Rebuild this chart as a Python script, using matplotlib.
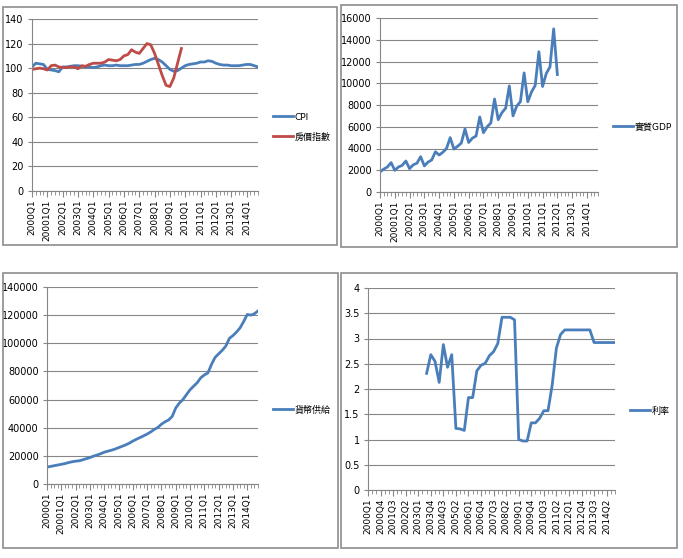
import numpy as np
import matplotlib
matplotlib.use("Agg")
import matplotlib.pyplot as plt
from matplotlib.patches import Rectangle
from matplotlib.ticker import FuncFormatter, FixedLocator

plt.rcParams['font.family'] = ['DejaVu Sans', 'Noto Sans CJK TC']

# quarters 2000Q1 .. 2014Q4 (60 categories)
n_q = 60

cpi = [101, 104, 103.5, 103, 99, 98.5, 98, 97, 101, 101,
       101.5, 102, 102, 101.5, 101, 101, 100.5, 101, 102, 102.5,
       102, 102, 102.5, 102, 102, 102, 102.5, 103, 103, 104,
       105.5, 107, 108, 107, 105, 102, 99, 97.5, 98, 100,
       102, 103, 103.5, 104, 105, 105, 106, 105.5, 104, 103,
       102.5, 102.5, 102, 102, 102, 102.5, 103, 103, 102, 101]

house = [99, 99.5, 100, 99.5, 98.5, 102, 102.5, 101, 100.5, 100.5,
         101, 101, 99.5, 102, 101.5, 103, 104, 104, 104, 105,
         107, 106.5, 106, 107, 110, 111, 115, 113, 112, 116,
         120, 119, 112, 103, 94, 86, 85, 92, 104, 116]

gdp = [1850, 2100, 2300, 2700, 2000, 2300, 2450, 2850,
       2150, 2500, 2650, 3250, 2400, 2750, 2950, 3700,
       3400, 3650, 4000, 5000, 3950, 4200, 4500, 5800,
       4550, 4950, 5150, 6900, 5450, 6000, 6350, 8550,
       6650, 7300, 7700, 9750, 7000, 7900, 8300, 10950,
       8300, 9200, 9800, 12900, 9700, 10900, 11500, 15000,
       10800]

money = [12000, 12500, 13000, 13500, 14000, 14500, 15200, 15800, 16200, 16500,
         17200, 18000, 18800, 19800, 20600, 21500, 22600, 23300, 24000, 24800,
         25800, 26800, 27800, 29000, 30500, 31800, 33000, 34200, 35500, 37000,
         38800, 40200, 42500, 44200, 45500, 48000, 54000, 57500, 60000, 63500,
         67000, 69500, 72000, 75500, 77500, 79000, 85000, 90000, 92500, 95000,
         98000, 103500, 105500, 108000, 111000, 115500, 120500, 120000, 121000, 123000]

rate_start = 14  # 2003Q3
rate = [2.31, 2.68, 2.55, 2.13, 2.88, 2.43, 2.68, 1.22, 1.21, 1.18,
        1.83, 1.83, 2.36, 2.47, 2.51, 2.66, 2.74, 2.9, 3.42, 3.42,
        3.42, 3.37, 1.0, 0.97, 0.97, 1.33, 1.33, 1.42, 1.57, 1.57,
        2.08, 2.81, 3.08, 3.17, 3.17, 3.17, 3.17, 3.17, 3.17, 3.17,
        2.92, 2.92, 2.92, 2.92, 2.92, 2.92]

year_labels = ["2000Q1", "20001Q1", "2002Q1", "2003Q1", "2004Q1", "2005Q1",
               "2006Q1", "2007Q1", "2008Q1", "2009Q1", "2010Q1", "2011Q1",
               "2012Q1", "2013Q1", "2014Q1"]
rate_labels = ["2000Q1", "2000Q4", "2001Q3", "2002Q2", "2003Q1", "2003Q4",
               "2004Q3", "2005Q2", "2006Q1", "2006Q4", "2007Q3", "2008Q2",
               "2009Q1", "2009Q4", "2010Q3", "2011Q2", "2012Q1", "2012Q4",
               "2013Q3", "2014Q2"]

BLUE = '#4a7ebb'
RED = '#be4b48'
GRID = '#868686'
W, H = 683, 558

fig = plt.figure(figsize=(W / 100, H / 100), dpi=100)


def px_axes(left, top, right, bottom):
    return fig.add_axes([left / W, 1 - bottom / H, (right - left) / W, (bottom - top) / H])


def box(left, top, right, bottom):
    fig.add_artist(Rectangle((left / W, 1 - bottom / H), (right - left) / W, (bottom - top) / H,
                             transform=fig.transFigure, fill=False, edgecolor='#8c8c8c', lw=1.2))


def style(ax, ymax, ystep, labels, step):
    ax.set_xlim(0, n_q - 1)
    ax.set_ylim(0, ymax)
    ax.set_yticks(np.arange(0, ymax + ystep / 2, ystep))
    ax.yaxis.set_major_formatter(FuncFormatter(lambda v, p: '{:g}'.format(v)))
    ax.grid(axis='y', color=GRID, lw=0.8)
    ax.set_axisbelow(True)
    for s in ['top', 'right']:
        ax.spines[s].set_visible(False)
    for s in ['left', 'bottom']:
        ax.spines[s].set_color(GRID)
    ax.xaxis.set_major_locator(FixedLocator(np.arange(len(labels)) * step))
    ax.set_xticklabels(labels, rotation=90, fontsize=6.5)
    ax.xaxis.set_minor_locator(FixedLocator(np.arange(n_q)))
    ax.tick_params(axis='x', which='major', length=4, color=GRID, pad=2)
    ax.tick_params(axis='x', which='minor', length=3, color=GRID)
    ax.tick_params(axis='y', length=3, color=GRID, labelsize=7, pad=3)


def legend(ax, x, y):
    ax.legend(loc='center left', bbox_to_anchor=(x / W, 1 - y / H), bbox_transform=fig.transFigure,
              frameon=False, fontsize=6.5, handlelength=2.2, handletextpad=0.2, labelspacing=1.2,
              borderaxespad=0, borderpad=0)


x = np.arange(n_q)

# top left: CPI and house price index
box(3, 7, 337, 245)
ax1 = px_axes(32, 19, 258, 191)
ax1.plot(x, cpi, color=BLUE, lw=2, label='CPI')
ax1.plot(x[:len(house)], house, color=RED, lw=2, label='房價指數')
style(ax1, 140, 20, year_labels, 4)
legend(ax1, 273, 127)

# top right: real GDP
box(341, 5, 677, 247)
ax2 = px_axes(380, 18, 598, 192)
ax2.plot(x[:len(gdp)], gdp, color=BLUE, lw=2, label='實質GDP')
style(ax2, 16000, 2000, year_labels, 4)
legend(ax2, 613, 127)

# bottom left: money supply
box(3, 273, 338, 548)
ax3 = px_axes(47, 287, 258, 484)
ax3.plot(x, money, color=BLUE, lw=2, label='貨幣供給')
style(ax3, 140000, 20000, year_labels, 4)
legend(ax3, 273, 410)

# bottom right: interest rate
box(341, 273, 677, 548)
ax4 = px_axes(368, 288, 615, 490)
ax4.plot(x[rate_start:rate_start + len(rate)], rate, color=BLUE, lw=2, label='利率')
style(ax4, 4, 0.5, rate_labels, 3)
legend(ax4, 630, 411)

fig.savefig('out.png', dpi=100)
